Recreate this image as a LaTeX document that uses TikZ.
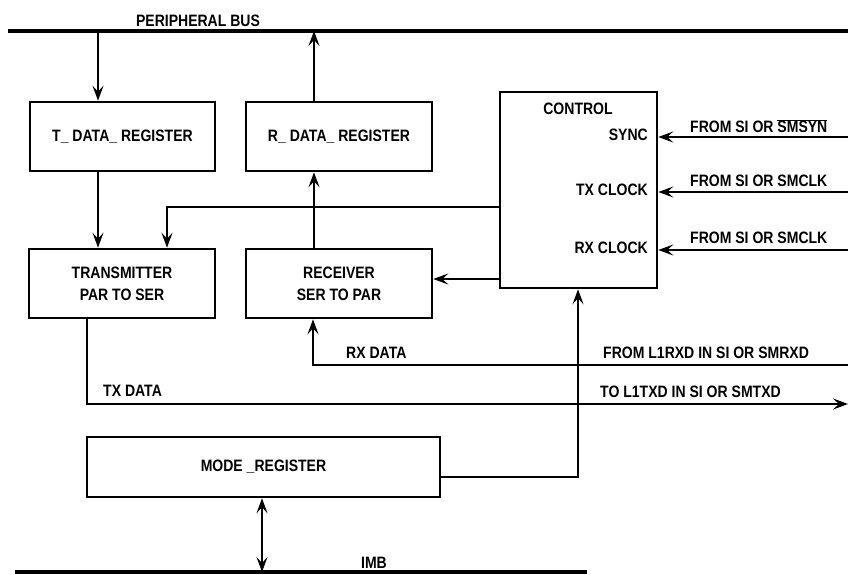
\documentclass[tikz,border=0pt]{standalone}
\usepackage{fontspec}
\setmainfont[FakeStretch=0.85]{Liberation Sans}
\usetikzlibrary{arrows.meta}
\begin{document}
\begin{tikzpicture}[x=1pt,y=-1pt,
  every node/.style={font=\fontsize{16.5}{19}\selectfont\bfseries, inner sep=0pt},
  box/.style={draw, line width=2.6pt, align=center, inner sep=0pt},
  wire/.style={line width=2pt},
  arr/.style={wire, -{Stealth[length=15pt,width=11pt,inset=6pt]}},
  darr/.style={wire, {Stealth[length=15pt,width=11pt,inset=6pt]}-{Stealth[length=15pt,width=11pt,inset=6pt]}},
  bus/.style={line width=4.5pt},
  lbl/.style={anchor=west}]
\useasboundingbox (0,0) rectangle (848,575);
% buses
\coordinate (busL) at (8,31);
\coordinate (busR) at (848,31);
\draw[bus] (busL) -- (busR);
\node (pbus) at (198,21) {PERIPHERAL BUS};
\coordinate (imbL) at (15,572);
\coordinate (imbR) at (587,572);
\draw[bus] (imbL) -- (imbR);
\node (imb) at (374,563) {IMB};
% boxes
\node[box, minimum width=185pt, minimum height=69pt] (tdata) at (122.5,136.5) {T\_ DATA\_ REGISTER};
\node[box, minimum width=186pt, minimum height=69pt] (rdata) at (339,136.5) {R\_ DATA\_ REGISTER};
\node[box, minimum width=186pt, minimum height=69pt] (tx) at (122,283.5) {TRANSMITTER\\[3pt]PAR TO SER};
\node[box, minimum width=186pt, minimum height=69pt] (rx) at (339,283.5) {RECEIVER\\[3pt]SER TO PAR};
\node[box, minimum width=157pt, minimum height=196pt] (ctrl) at (578.5,190) {};
\node[box, minimum width=353pt, minimum height=60pt] (mode) at (263.5,467) {MODE \_REGISTER};
% control labels
\node (ctrllbl) at (578,109) {CONTROL};
\node[anchor=east] (sync) at (648,135) {SYNC};
\node[anchor=east] (txclk) at (648,190) {TX CLOCK};
\node[anchor=east] (rxclk) at (648,248) {RX CLOCK};
% bus connections
\coordinate (b1) at (98,31);
\coordinate (b2) at (314,31);
\draw[arr] (b1) -- (b1 |- tdata.north);
\draw[arr] (b2 |- rdata.north) -- (b2);
\draw[arr] (b1 |- tdata.south) -- (b1 |- tx.north);
\draw[arr] (b2 |- rx.north) -- (b2 |- rdata.south);
% control to transmitter / receiver
\coordinate (c1) at (167,207);
\draw[arr] (ctrl.west |- c1) -- (c1) -- (c1 |- tx.north);
\coordinate (c2) at (432,279);
\draw[arr] (ctrl.west |- c2) -- (rx.east |- c2);
% inputs to control
\coordinate (in1) at (848,137);
\coordinate (in2) at (848,192);
\coordinate (in3) at (848,250);
\draw[arr] (in1) -- (ctrl.east |- in1);
\draw[arr] (in2) -- (ctrl.east |- in2);
\draw[arr] (in3) -- (ctrl.east |- in3);
\node[lbl] (l1) at (690,126) {FROM SI OR $\overline{\hbox{SMSYN}}$};
\node[lbl] (l2) at (690,181) {FROM SI OR SMCLK};
\node[lbl] (l3) at (690,238) {FROM SI OR SMCLK};
% rx data
\coordinate (rxin) at (848,365);
\coordinate (rxc) at (313,365);
\draw[arr] (rxin) -- (rxc) -- (rxc |- rx.south);
\node[lbl] (rxd) at (346,353) {RX DATA};
\node[lbl] (rxdl) at (603,353) {FROM L1RXD IN SI OR SMRXD};
% tx data
\coordinate (txc) at (87,404);
\coordinate (txout) at (848,404);
\draw[arr] (txc |- tx.south) -- (txc) -- (txout);
\node[lbl] (txd) at (103,391) {TX DATA};
\node[lbl] (txdl) at (600,392) {TO L1TXD IN SI OR SMTXD};
% mode to control
\coordinate (m1) at (578,477);
\draw[arr] (mode.east |- m1) -- (m1) -- (m1 |- ctrl.south);
% mode to IMB
\coordinate (m2) at (262,572);
\draw[darr] (m2 |- mode.south) -- (m2);
\end{tikzpicture}
\end{document}
